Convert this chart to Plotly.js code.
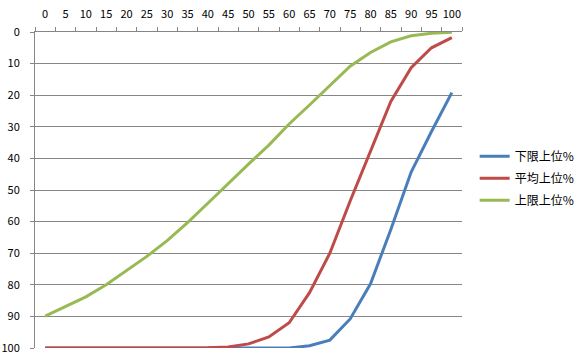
<!DOCTYPE html>
<html>
<head>
<meta charset="utf-8">
<script src="https://cdn.plot.ly/plotly-3.0.1.min.js"></script>
<style>html,body{margin:0;padding:0;background:#fff;}#chart{width:586px;height:360px;}</style>
</head>
<body>
<div id="chart"></div>
<script>
const categories = ["0","5","10","15","20","25","30","35","40","45","50","55","60","65","70","75","80","85","90","95","100"];
const seriesNames = ["下限上位%", "平均上位%", "上限上位%"];
const lowerValues = [100,100,100,100,100,100,100,100,100,100,100,100,100,99.3,97.5,90.8,79.7,62.5,44.3,31.5,19.2];
const averageValues = [100,100,100,100,100,100,100,100,99.9,99.7,98.7,96.5,92,82.5,70,53.5,37.5,22,11.3,5,1.8];
const upperValues = [89.9,86.8,83.8,80,75.5,71,66,60.3,54.2,47.9,41.8,35.8,29.1,23.1,16.8,10.8,6.5,3.1,1.2,0.4,0.1];
const yTicks = [0,10,20,30,40,50,60,70,80,90,100];
const colors = ["#4A7EBB", "#BE4B48", "#98B954"];

const seriesValues = [lowerValues, averageValues, upperValues];
const traces = seriesValues.map((vals, i) => ({
  type: "scatter",
  mode: "lines",
  x: categories,
  y: vals,
  name: seriesNames[i],
  legendgroup: "g" + i,
  line: {color: colors[i], width: 3}
}));

const font = {family: "'Noto Sans CJK JP', 'Noto Sans', sans-serif", size: 11, color: "#000"};
const layout = {
  width: 586,
  height: 360,
  margin: {l: 35, r: 124, t: 32, b: 12},
  paper_bgcolor: "#fff",
  plot_bgcolor: "#fff",
  font: font,
  showlegend: true,
  legend: {
    xref: "container", yref: "container",
    x: 0.81, xanchor: "left",
    y: 0.505, yanchor: "middle",
    font: {family: font.family, size: 12, color: "#000"},
    tracegroupgap: 3,
    itemwidth: 30
  },
  xaxis: {
    type: "category",
    range: [-0.5, categories.length - 0.5],
    side: "top",
    tickangle: 0,
    showgrid: false,
    showline: true,
    linecolor: "#868686",
    linewidth: 1,
    ticks: "outside",
    tickson: "boundaries",
    ticklen: 4,
    tickcolor: "#868686",
    tickfont: font,
    ticklabelstandoff: 9,
    automargin: false,
    zeroline: false,
    fixedrange: true
  },
  yaxis: {
    range: [100, 0],
    tickvals: yTicks,
    ticktext: yTicks.map(String),
    showgrid: true,
    gridcolor: "#868686",
    gridwidth: 1,
    showline: true,
    linecolor: "#868686",
    ticks: "outside",
    ticklen: 4,
    tickcolor: "#868686",
    tickfont: font,
    ticklabelstandoff: 8,
    automargin: false,
    zeroline: false,
    fixedrange: true
  }
};

Plotly.newPlot("chart", traces, layout, {displayModeBar: false, staticPlot: true});
</script>
</body>
</html>
